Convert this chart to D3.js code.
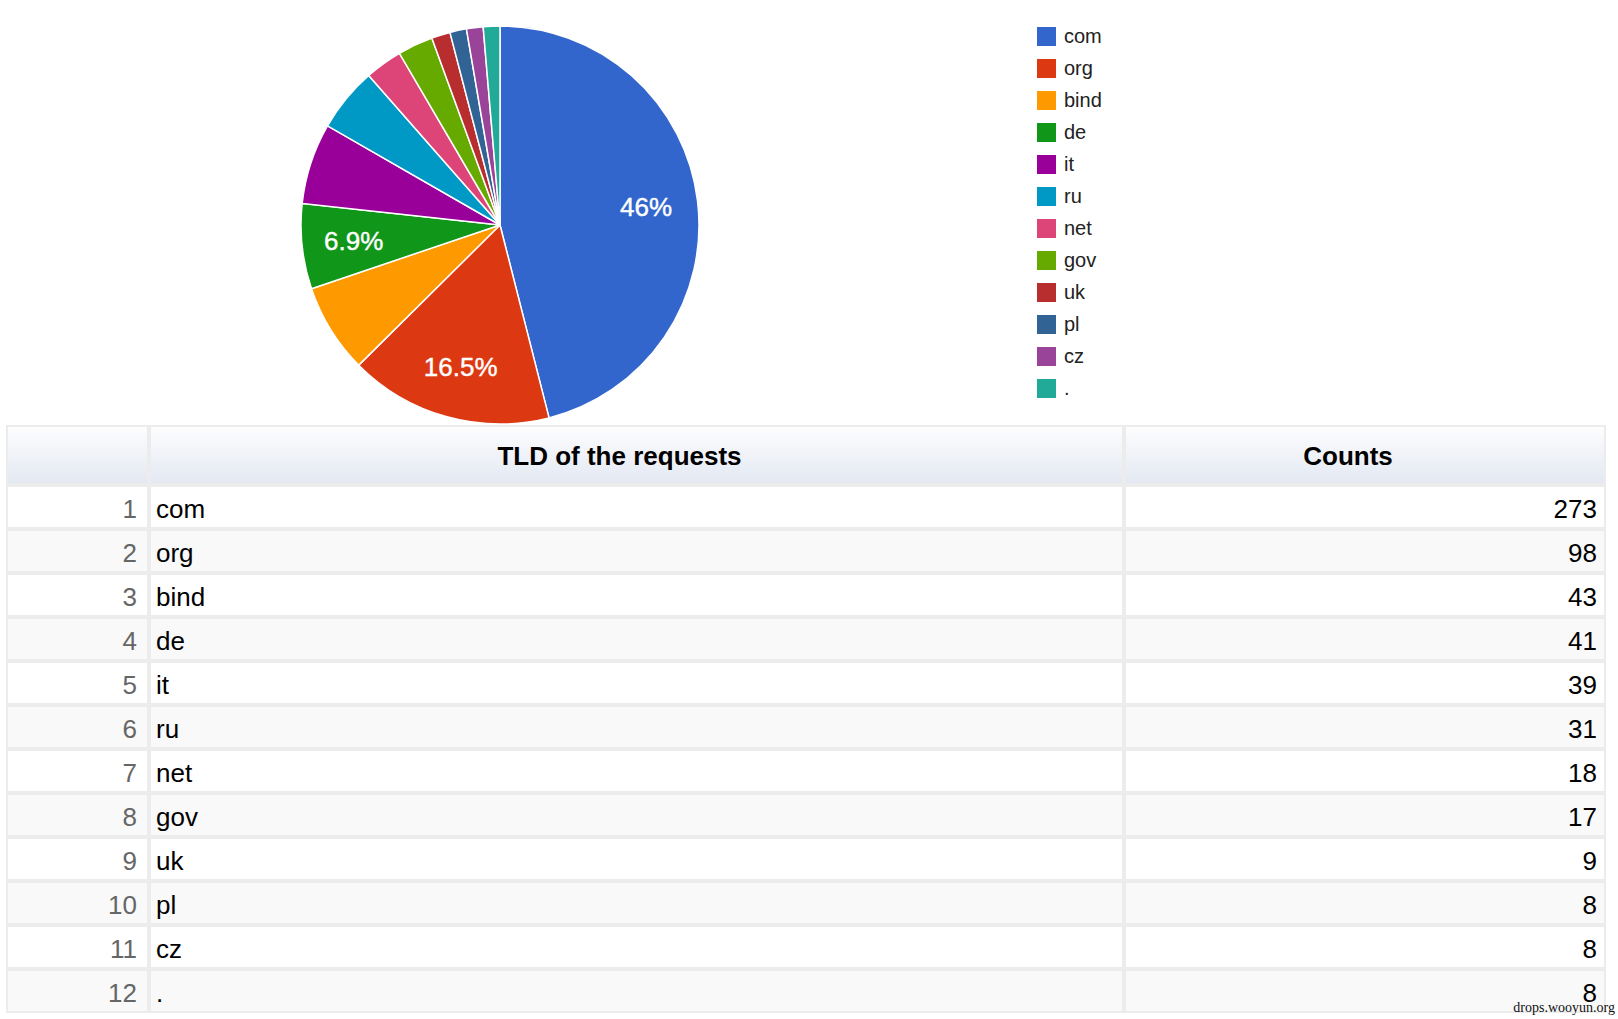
<!DOCTYPE html>
<html>
<head>
<meta charset="utf-8">
<script src="https://cdn.jsdelivr.net/npm/d3@7"></script>
<style>
  html, body { margin: 0; padding: 0; background: #fff; }
  svg { display: block; }
  text { font-family: "Liberation Sans", Arial, sans-serif; }
</style>
</head>
<body>
<div id="chart"></div>
<script>
(function () {
  "use strict";

  // data
  var tlds = ["com", "org", "bind", "de", "it", "ru", "net", "gov", "uk", "pl", "cz", "."];
  var counts = [273, 98, 43, 41, 39, 31, 18, 17, 9, 8, 8, 8];
  var colors = ["#3366cc", "#dc3912", "#ff9900", "#109618", "#990099", "#0099c6",
                "#dd4477", "#66aa00", "#b82e2e", "#316395", "#994499", "#22aa99"];
  var labelled = ["com", "org", "de"];
  var headers = ["", "TLD of the requests", "Counts"];

  var W = 1618, H = 1019;
  var rows = tlds.map(function (t, i) { return { i: i, tld: t, count: counts[i] }; });

  var svg = d3.select("#chart").append("svg")
    .attr("width", W)
    .attr("height", H)
    .attr("viewBox", [0, 0, W, H]);

  // ---- pie ----
  var cx = 500, cy = 225, r = 199;
  var pie = d3.pie().sort(null).value(function (d) { return d.count; });
  var arc = d3.arc().innerRadius(0).outerRadius(r);
  var labelArc = d3.arc().innerRadius(r * 0.74).outerRadius(r * 0.74);
  var pct = d3.format(".1~%");
  var total = d3.sum(counts);

  var g = svg.append("g").attr("transform", "translate(" + cx + "," + cy + ")");
  var arcs = pie(rows);

  g.selectAll("path")
    .data(arcs)
    .join("path")
    .attr("d", arc)
    .attr("fill", function (d) { return colors[d.data.i]; })
    .attr("stroke", "#fff")
    .attr("stroke-width", 1.5);

  g.selectAll("text")
    .data(arcs.filter(function (d) { return labelled.indexOf(d.data.tld) >= 0; }))
    .join("text")
    .attr("transform", function (d) { return "translate(" + labelArc.centroid(d) + ")"; })
    .attr("text-anchor", "middle")
    .attr("dy", "0.36em")
    .attr("font-size", 26)
    .attr("fill", "#fff")
    .style("paint-order", "stroke")
    .attr("stroke", "#fff")
    .attr("stroke-width", 0.4)
    .text(function (d) { return pct(d.data.count / total); });

  // ---- legend ----
  var ly = d3.scaleLinear().domain([0, 1]).range([27, 59]);
  var leg = svg.append("g").selectAll("g")
    .data(rows)
    .join("g")
    .attr("transform", function (d) { return "translate(1037," + ly(d.i) + ")"; });

  leg.append("rect")
    .attr("width", 19)
    .attr("height", 19)
    .attr("fill", function (d) { return colors[d.i]; });

  leg.append("text")
    .attr("x", 27)
    .attr("y", 16)
    .attr("font-size", 20)
    .attr("fill", "#222")
    .text(function (d) { return d.tld; });

  // ---- table ----
  var defs = svg.append("defs");
  var grad = defs.append("linearGradient")
    .attr("id", "headGrad")
    .attr("x1", 0).attr("y1", 0).attr("x2", 0).attr("y2", 1);
  grad.append("stop").attr("offset", "0%").attr("stop-color", "#fdfdfe");
  grad.append("stop").attr("offset", "100%").attr("stop-color", "#e3e8f2");

  var colX = [[8, 147], [151, 1122], [1126, 1604]];
  var tableTop = 425, headTop = 427, headBottom = 483;
  var y = d3.scaleBand()
    .domain(d3.range(rows.length))
    .range([485, 1013])
    .paddingInner(4 / 44)
    .paddingOuter(2 / 44);

  var t = svg.append("g");
  t.append("rect")
    .attr("x", 6)
    .attr("y", tableTop)
    .attr("width", 1606 - 6)
    .attr("height", 1013 - tableTop)
    .attr("fill", "#ececec");

  // header
  colX.forEach(function (c, j) {
    t.append("rect")
      .attr("x", c[0])
      .attr("y", headTop)
      .attr("width", c[1] - c[0])
      .attr("height", headBottom - headTop)
      .attr("fill", "url(#headGrad)");
    if (headers[j]) {
      t.append("text")
        .attr("x", (c[0] + c[1]) / 2 - 17)
        .attr("y", (headTop + headBottom) / 2)
        .attr("dy", "0.38em")
        .attr("text-anchor", "middle")
        .attr("font-size", 26)
        .attr("font-weight", "bold")
        .attr("fill", "#000")
        .text(headers[j]);
    }
  });

  var rowG = t.selectAll("g.row")
    .data(rows)
    .join("g")
    .attr("class", "row")
    .attr("transform", function (d) { return "translate(0," + y(d.i) + ")"; });

  colX.forEach(function (c) {
    rowG.append("rect")
      .attr("x", c[0])
      .attr("width", c[1] - c[0])
      .attr("height", y.bandwidth())
      .attr("fill", function (d) { return d.i % 2 ? "#f9f9f9" : "#fff"; });
  });

  var mid = y.bandwidth() / 2;
  rowG.append("text")
    .attr("x", 137)
    .attr("y", mid)
    .attr("dy", "0.42em")
    .attr("text-anchor", "end")
    .attr("font-size", 26)
    .attr("fill", "#666")
    .text(function (d) { return d.i + 1; });

  rowG.append("text")
    .attr("x", 156)
    .attr("y", mid)
    .attr("dy", "0.42em")
    .attr("font-size", 26)
    .attr("fill", "#000")
    .text(function (d) { return d.tld; });

  rowG.append("text")
    .attr("x", 1597)
    .attr("y", mid)
    .attr("dy", "0.42em")
    .attr("text-anchor", "end")
    .attr("font-size", 26)
    .attr("fill", "#000")
    .text(function (d) { return d.count; });

  // watermark
  svg.append("text")
    .attr("x", 1615)
    .attr("y", 1012)
    .attr("text-anchor", "end")
    .attr("font-size", 14)
    .attr("fill", "#111")
    .style("font-family", "'Liberation Serif', 'DejaVu Serif', serif")
    .text("drops.wooyun.org");
})();
</script>
</body>
</html>
